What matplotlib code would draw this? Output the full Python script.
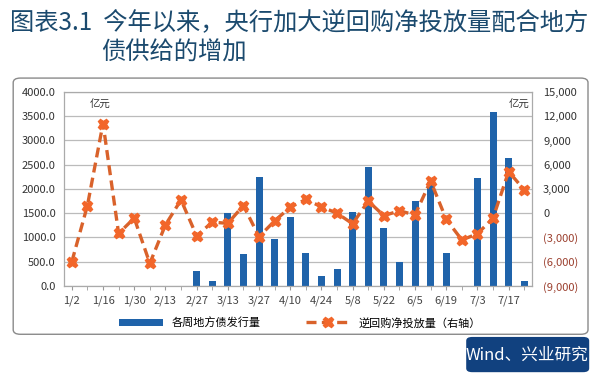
import matplotlib.pyplot as plt
from matplotlib.patches import FancyBboxPatch

plt.rcParams['font.family'] = ['Noto Sans CJK SC', 'DejaVu Sans']

# 周度数据
weeks = ['1/2', '1/9', '1/16', '1/23', '1/30', '2/6', '2/13', '2/20', '2/27', '3/6',
         '3/13', '3/20', '3/27', '4/3', '4/10', '4/17', '4/24', '5/1', '5/8', '5/15',
         '5/22', '5/29', '6/5', '6/12', '6/19', '6/26', '7/3', '7/10', '7/17', '7/24']
# 各周地方债发行量（左轴，亿元）
bond_issue = [0, 0, 0, 0, 0, 0, 0, 0, 310, 100,
              1500, 660, 2240, 960, 1430, 690, 200, 350, 1520, 2450,
              1200, 500, 1750, 2150, 690, 0, 2220, 3580, 2630, 100]
# 逆回购净投放量（右轴，亿元）
repo_net = [-6000, 950, 11100, -2500, -600, -6200, -1450, 1650, -2800, -1100,
            -1250, 950, -2900, -950, 750, 1700, 800, 0, -1300, 1500,
            -300, 300, -200, 4000, -750, -3300, -2550, -600, 5150, 2900]

left_ticks = [0, 500, 1000, 1500, 2000, 2500, 3000, 3500, 4000]
right_ticks = [-9000, -6000, -3000, 0, 3000, 6000, 9000, 12000, 15000]

bar_color = '#1F63AA'
line_color = '#D9622B'
title_color = '#1B4A6E'

fig = plt.figure(figsize=(6, 3.79), dpi=100)

# 标题
fig.text(0.017, 0.94, '图表3.1  今年以来，央行加大逆回购净投放量配合地方',
         fontsize=17.5, color=title_color, va='center', ha='left', fontweight='medium')
fig.text(0.168, 0.862, '债供给的增加',
         fontsize=17.5, color=title_color, va='center', ha='left', fontweight='medium')

# 外框
frame = FancyBboxPatch((0.022, 0.118), 0.958, 0.676,
                       boxstyle='round,pad=0,rounding_size=0.012',
                       transform=fig.transFigure, facecolor='none',
                       edgecolor='#8A8A8A', linewidth=1.0)
fig.patches.append(frame)

# 来源标签
tag = FancyBboxPatch((0.777, 0.018), 0.205, 0.093,
                     boxstyle='round,pad=0,rounding_size=0.01',
                     transform=fig.transFigure, facecolor='#11417F',
                     edgecolor='none')
fig.patches.append(tag)
fig.text(0.879, 0.064, 'Wind、兴业研究', color='white', fontsize=12,
         ha='center', va='center', fontweight='medium')

ax = fig.add_axes([0.1067, 0.2454, 0.78, 0.5119])
x = list(range(len(weeks)))
ax.bar(x, bond_issue, width=0.45, color=bar_color, zorder=2, label='各周地方债发行量')
ax.set_xlim(-0.5, len(weeks) - 0.5)
ax.set_ylim(0, 4000)
ax.set_yticks(left_ticks)
ax.set_yticklabels(['%.1f' % v for v in left_ticks], fontsize=8, color='#333333')
ax.set_xticks(x[::2])
ax.set_xticklabels(weeks[::2], fontsize=8, color='#444444')
ax.set_xticks(x, minor=True)
ax.tick_params(axis='x', which='both', length=3, color='#999999')
ax.tick_params(axis='y', length=0, pad=6)
ax.grid(axis='y', color='#BBBBBB', linewidth=0.9, zorder=0)
for s in ax.spines.values():
    s.set_color('#AAAAAA')
    s.set_linewidth(0.9)

ax2 = ax.twinx()
ax2.plot(x, repo_net, color=line_color, linestyle=(0, (3, 1.6)), linewidth=2.4,
         marker='X', markersize=7.5, markerfacecolor='#F2662A',
         markeredgecolor='#F2662A', zorder=3, label='逆回购净投放量（右轴）')
ax2.set_ylim(-9000, 15000)
ax2.set_yticks(right_ticks)
labels = []
for v in right_ticks:
    if v < 0:
        labels.append('({:,})'.format(-v))
    else:
        labels.append('{:,}'.format(v))
ax2.set_yticklabels(labels, fontsize=8)
for t, v in zip(ax2.get_yticklabels(), right_ticks):
    t.set_color('#9B3F2E' if v < 0 else '#333333')
ax2.tick_params(axis='y', length=0, pad=8)
for s in ax2.spines.values():
    s.set_visible(False)

ax.text(0.055, 0.92, '亿元', transform=ax.transAxes, fontsize=7.5, color='#333333')
ax.text(0.95, 0.92, '亿元', transform=ax.transAxes, fontsize=7.5, color='#333333')

h1, l1 = ax.get_legend_handles_labels()
h2, l2 = ax2.get_legend_handles_labels()
fig.legend(h1 + h2, l1 + l2, loc='center', bbox_to_anchor=(0.5, 0.148), ncol=2,
           frameon=False, fontsize=8, handlelength=4, columnspacing=4)

fig.savefig('out.png', dpi=100, facecolor='white')
